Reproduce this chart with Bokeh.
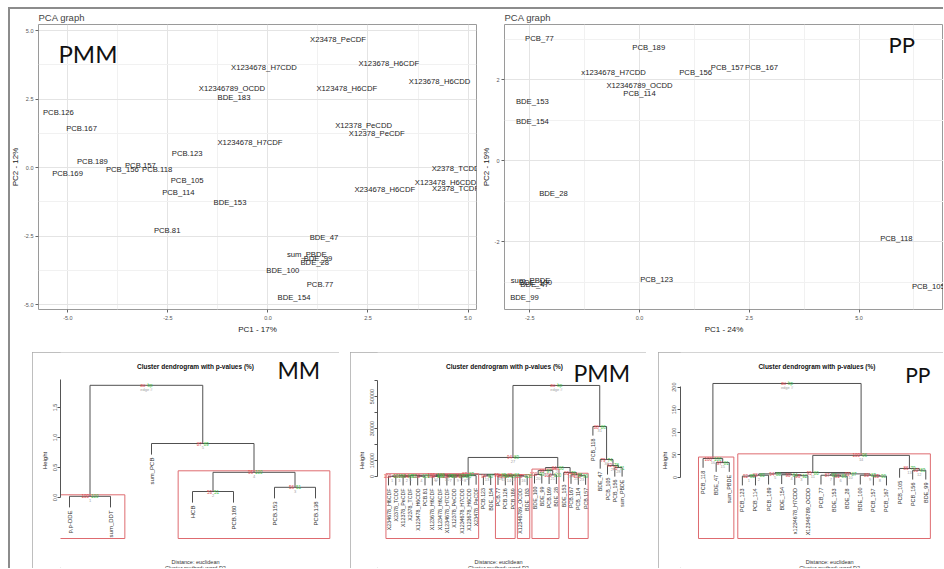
import math
from bokeh.plotting import figure
from bokeh.models import FixedTicker, NumeralTickFormatter, Spacer, ColumnDataSource
from bokeh.layouts import row, column
from bokeh.core.properties import value
from bokeh.embed import file_html
from bokeh.resources import INLINE

FONT = "Liberation Sans"
BIG = "Lato"

# ---------------- PCA, PMM ----------------
pmm_names = ["X23478_PeCDF", "X123678_H6CDF", "X1234678_H7CDD", "X123678_H6CDD", "X12346789_OCDD",
             "BDE_183", "X123478_H6CDF", "PCB.126", "PCB.167", "X12378_PeCDD", "X12378_PeCDF",
             "X1234678_H7CDF", "PCB.123", "PCB.189", "PCB.169", "PCB_156", "PCB.157", "PCB.118",
             "PCB_105", "PCB_114", "BDE_153", "PCB.81", "X2378_TCDD", "X123478_H6CDD", "X2378_TCDF",
             "X234678_H6CDF", "BDE_47", "sum_PBDE", "BDE_99", "BDE_28", "BDE_100", "PCB.77", "BDE_154"]
pmm_pc1 = [1.75, 3.02, -0.10, 4.29, -0.90, -0.85, 1.97, -5.24, -4.66, 2.39, 2.72, -0.45, -2.02,
           -4.39, -5.01, -3.64, -3.19, -2.77, -2.02, -2.24, -0.95, -2.52, 4.69, 4.44, 4.69, 2.92,
           1.40, 0.97, 1.25, 1.17, 0.37, 1.30, 0.65]
pmm_pc2 = [4.67, 3.80, 3.65, 3.14, 2.88, 2.55, 2.88, 2.01, 1.42, 1.53, 1.24, 0.91, 0.51, 0.22,
           -0.22, -0.06, 0.07, -0.06, -0.47, -0.91, -1.28, -2.30, -0.04, -0.55, -0.77, -0.80,
           -2.55, -3.18, -3.32, -3.47, -3.76, -4.27, -4.74]
pmm_xticks = [-5.0, -2.5, 0.0, 2.5, 5.0]
pmm_xminor = [-3.75, -1.25, 1.25, 3.75]
pmm_yticks = [-5.0, -2.5, 0.0, 2.5, 5.0]
pmm_yminor = [-3.75, -1.25, 1.25, 3.75]

# ---------------- PCA, PP ----------------
pp_names = ["PCB_77", "PCB_189", "x1234678_H7CDD", "PCB_156", "PCB_157", "PCB_167", "X12346789_OCDD",
            "PCB_114", "BDE_153", "BDE_154", "BDE_28", "PCB_118", "PCB_123", "PCB_105", "sum_PBDE",
            "BDE_100", "BDE_47", "BDE_99"]
pp_pc1 = [-2.28, 0.21, -0.59, 1.28, 2.00, 2.78, 0.00, 0.00, -2.44, -2.44, -1.96, 5.85, 0.39, 6.58,
          -2.48, -2.37, -2.39, -2.62]
pp_pc2 = [3.01, 2.79, 2.17, 2.17, 2.30, 2.30, 1.85, 1.65, 1.46, 0.96, -0.81, -1.93, -2.94, -3.11,
          -2.96, -3.01, -3.06, -3.38]
pp_xticks = [-2.5, 0.0, 2.5, 5.0]
pp_xminor = [-1.25, 1.25, 3.75, 6.25]
pp_yticks = [-2, 0, 2]
pp_yminor = [-3, -1, 1, 3]

# ---------------- Dendrogram MM ----------------
mm_leaves = ["p,p-DDE", "sum_DDT", "sum_PCB", "HCB", "PCB.180", "PCB.153", "PCB.138"]
mm_merges = [(-1, -2), (-4, -5), (-6, -7), (2, 3), (-3, 4), (1, 5)]
mm_heights = [0.02, 0.10, 0.17, 0.42, 0.90, 1.87]
mm_au = [100, 53, 56, 96, 87]
mm_bp = [100, 51, 51, 100, 89]
mm_rects = [1, 4]
mm_ticks = [0.0, 0.5, 1.0, 1.5]

# ---------------- Dendrogram PMM ----------------
pmm_leaves = ["X234678_H6CDF", "X2378_TCDD", "X12378_PeCDF", "X2378_TCDF", "X123478_H6CDD", "PCB.81",
              "X123678_H6CDF", "X123478_H6CDF", "X1234678_H7CDF", "X12378_PeCDD", "X1234678_H7CDD",
              "X123678_H6CDD", "X23478_PeCDF", "PCB.123", "BDE_154", "PCB.77", "PCB.126", "PCB.189",
              "X12346789_OCDD", "BDE_183", "BDE_100", "BDE_99", "PCB.169", "BDE_28", "BDE_153",
              "PCB.167", "PCB_114", "PCB.157", "PCB_118", "BDE_47", "PCB_105", "PCB_156", "sum_PBDE"]
pmm_merges = [(-1, -2), (-3, -4), (1, 2), (-5, -6), (3, 4), (-7, -8), (-9, -10), (-11, -12), (7, 8),
              (6, 9), (10, -13), (5, 11), (-14, -15), (-17, -18), (-16, 14), (-19, -20), (15, 16),
              (13, 17), (12, 18), (-21, -22), (-23, -24), (20, 21), (-27, -28), (-26, 23), (-25, 24),
              (22, 25), (19, 26), (-32, -33), (-31, 28), (-30, 29), (-29, 30), (27, 31)]
pmm_heights = [120, 90, 300, 150, 500, 60, 80, 110, 260, 420, 560, 800, 350, 180, 420, 240, 650,
               1100, 1400, 1300, 1000, 3700, 500, 1100, 2500, 5600, 11900, 5600, 6900, 10600, 31250, 56900]
pmm_au = [100, 100, 99, 100, 98, 100, 100, 97, 99, 100, 96, 100, 94, 100, 98, 100, 89, 91, 87, 100,
          100, 99, 100, 98, 80, 84, 94, 75, 82, 79, 88]
pmm_bp = [100, 99, 98, 100, 95, 100, 99, 96, 97, 99, 93, 100, 90, 99, 96, 100, 86, 85, 83, 99,
          100, 97, 99, 95, 76, 80, 89, 71, 78, 74, 86]
pmm_rects = [12, 15, 16, 22, 24]
pmm_ticks = [0, 10000, 20000, 30000, 40000, 50000, 60000]
pmm_hidden_ticks = [20000, 40000, 60000]

# ---------------- Dendrogram PP ----------------
pp_leaves = ["PCB_118", "BDE_47", "sum_PBDE", "PCB_123", "PCB_114", "PCB_189", "BDE_154",
             "x1234678_H7CDD", "X12346789_OCDD", "PCB_77", "BDE_153", "BDE_28", "BDE_100",
             "PCB_157", "PCB_167", "PCB_105", "PCB_156", "BDE_99"]
pp_merges = [(-4, -5), (1, -6), (-8, -9), (-7, 3), (2, 4), (-11, -12), (-10, 6), (-14, -15), (-13, 8),
             (7, 9), (5, 10), (-17, -18), (-16, 12), (11, 13), (-2, -3), (-1, 15), (16, 14)]
pp_heights = [3, 5, 4, 6, 8, 3, 5, 3, 5, 8, 11, 16, 20, 49, 33, 42, 208]
pp_au = [92, 88, 96, 90, 94, 91, 87, 95, 89, 93, 95, 90, 86, 100, 97, 100]
pp_bp = [85, 80, 92, 84, 88, 86, 80, 90, 83, 87, 80, 83, 79, 96, 81, 100]
pp_rects = [16, 14]
pp_ticks = [0, 50, 100, 150, 200]

FRAME_LINE = "#8c8c8c"


def style_axes(p, tick_size="5.5px", label_size="8px"):
    for ax in p.axis:
        ax.major_label_text_font = FONT
        ax.major_label_text_font_size = tick_size
        ax.major_label_text_color = "#555555"
        ax.axis_label_text_font = FONT
        ax.axis_label_text_font_size = label_size
        ax.axis_label_text_font_style = "normal"
        ax.axis_label_text_color = "#222222"
        ax.major_tick_out = 3
        ax.major_tick_in = 0
        ax.minor_tick_line_color = None
        ax.major_tick_line_color = "#666666"
        ax.axis_line_color = None
        ax.major_label_standoff = 1
        ax.axis_label_standoff = 1


def make_pca(names, xs, ys, xr, yr, width, mbl, mbr, xt, xm, yt, ym, xfmt, yfmt, xlab, ylab,
             tag, tag_pos, tag_size, shadow):
    p = figure(width=width, height=330, x_range=xr, y_range=yr, output_backend="svg",
               toolbar_location=None, min_border_left=mbl, min_border_right=mbr,
               min_border_top=17, min_border_bottom=28)
    p.border_fill_color = None
    p.background_fill_color = "white"
    p.styles = {"box-shadow": shadow}
    p.title.text = "PCA graph"
    p.title.text_font = FONT
    p.title.text_font_size = "9.5px"
    p.title.text_font_style = "normal"
    p.title.standoff = 4
    p.title.align = "left"
    p.xaxis.ticker = FixedTicker(ticks=xt, minor_ticks=xm)
    p.yaxis.ticker = FixedTicker(ticks=yt, minor_ticks=ym)
    p.xaxis.formatter = NumeralTickFormatter(format=xfmt)
    p.yaxis.formatter = NumeralTickFormatter(format=yfmt)
    p.xaxis.axis_label = xlab
    p.yaxis.axis_label = ylab
    style_axes(p)
    p.xaxis.major_label_standoff = 2
    p.xaxis.axis_label_standoff = 2
    for g in (p.xgrid, p.ygrid):
        g.grid_line_color = "#e4e4e4"
        g.minor_grid_line_color = "#f1f1f1"
    p.outline_line_color = "#9a9a9a"
    p.outline_line_width = 1
    src = ColumnDataSource(dict(x=xs, y=ys, t=names))
    p.text(x="x", y="y", text="t", source=src, text_font=value(FONT), text_font_size="7.7px",
           text_align="center", text_baseline="middle", text_color="#1e1e1e")
    p.text(x=[tag_pos[0]], y=[tag_pos[1]], text=[tag], text_font=value(BIG),
           text_font_size=tag_size, text_align="left", text_baseline="middle",
           text_color="#111111")
    return p


# top-left PCA: PC1 0 at page x 267 (40.1 px/unit), PC2 0 at page y 167 (27.4 px/unit)
p1 = make_pca(pmm_names, pmm_pc1, pmm_pc2,
              ((37 - 267) / 40.1, (476 - 267) / 40.1), ((167 - 309) / 27.4, (167 - 24) / 27.4),
              470, 29, 2, pmm_xticks, pmm_xminor, pmm_yticks, pmm_yminor, "0.0", "0.0",
              "PC1 - 17%", "PC2 - 12%", "PMM", ((57 - 267) / 40.1, (167 - 53) / 27.4), "24px",
              "inset 2px 2px 0 " + FRAME_LINE)
# top-right PCA: PC1 0 at page x 639 (43.9 px/unit), PC2 0 at page y 160 (40.5 px/unit)
p2 = make_pca(pp_names, pp_pc1, pp_pc2,
              ((504 - 639) / 43.9, (943 - 639) / 43.9), ((160 - 309) / 40.5, (160 - 24) / 40.5),
              465, 26, 0, pp_xticks, pp_xminor, pp_yticks, pp_yminor, "0.0", "0",
              "PC1 - 24%", "PC2 - 19%", "PP", ((888 - 639) / 43.9, (160 - 43.5) / 40.5), "22px",
              "inset 0 2px 0 " + FRAME_LINE)

RED = "#e2484f"
GREEN = "#3cbf4a"
GREY = "#a0a0a0"
RECT = "#de6b70"
TOP, BOTTOM = 352, 568


def make_dendro(leaves, merges, heights, au, bp, rects, ticks, fmt, hidden, geo, tag, tag_size):
    step, ppu = geo["step"], geo["ppu"]

    def px2x(px):
        return 1 + (px - geo["leaf1"]) / step

    def py2h(py):
        return (geo["zero"] - py) / ppu

    W = geo["box_r"] - geo["box_l"]
    p = figure(width=W, height=BOTTOM - TOP, x_range=(px2x(geo["axis"]), px2x(geo["box_r"])),
               y_range=(py2h(BOTTOM), py2h(TOP)), x_axis_location=None, output_backend="svg",
               toolbar_location=None, min_border_left=geo["axis"] - geo["box_l"],
               min_border_right=0, min_border_top=0, min_border_bottom=0)
    p.styles = {"outline": "1px solid #a9a9a9", "outline-offset": "-1px"}
    p.grid.visible = False
    p.outline_line_color = None
    ax = p.yaxis[0]
    ax.ticker = FixedTicker(ticks=ticks)
    if fmt:
        ax.formatter = NumeralTickFormatter(format=fmt)
    if hidden:
        ax.major_label_overrides = {t: "" for t in hidden}
    ax.axis_label = "Height"
    style_axes(p, "5.5px", "6px")
    ax.axis_line_color = "#555555"
    ax.major_tick_line_color = "#555555"
    ax.bounds = (0, py2h(geo["axis_top"]))
    ax.major_label_orientation = "vertical"
    ax.major_label_standoff = 1
    ax.axis_label_standoff = 2

    n = len(leaves)
    hang = 0.1 * (max(heights) - min(heights))
    mx = []
    members = []
    leaf_end = [0.0] * n
    for (a, b), h in zip(merges, heights):
        xa = float(-a) if a < 0 else mx[a - 1]
        xb = float(-b) if b < 0 else mx[b - 1]
        mx.append((xa + xb) / 2)
        mem = []
        for c in (a, b):
            if c < 0:
                mem.append(-c)
                leaf_end[-c - 1] = h - hang
            else:
                mem.extend(members[c - 1])
        members.append(mem)

    x0, y0, x1, y1 = [], [], [], []
    for k, ((a, b), h) in enumerate(zip(merges, heights)):
        for c in (a, b):
            xc = float(-c) if c < 0 else mx[c - 1]
            yc = h - hang if c < 0 else heights[c - 1]
            x0.append(xc); y0.append(yc); x1.append(xc); y1.append(h)
        xa = float(-a) if a < 0 else mx[a - 1]
        xb = float(-b) if b < 0 else mx[b - 1]
        x0.append(xa); y0.append(h); x1.append(xb); y1.append(h)
    p.segment(x0=x0, y0=y0, x1=x1, y1=y1, line_color="#505050", line_width=1)

    # leaf labels
    gap = 3 / ppu
    p.text(x=list(range(1, n + 1)), y=[e - gap for e in leaf_end], text=leaves, angle=math.pi / 2,
           text_font=value(FONT), text_font_size=geo["leaf_font"], text_align="right",
           text_baseline="middle", text_color="#333333")

    # cluster rectangles
    pad = 0.35
    lefts = [min(members[m - 1]) - pad for m in rects]
    rights = [max(members[m - 1]) + pad for m in rects]
    tops = [heights[m - 1] + 1.5 / ppu for m in rects]
    bots = [py2h(538)] * len(rects)
    p.quad(left=lefts, right=rights, top=tops, bottom=bots, fill_color=None, line_color=RECT,
           line_width=1)

    # p-values (au red, bp green, edge number grey)
    d = 1.0 / step
    dn = 4 / ppu
    nm = len(merges) - 1
    p.text(x=[x - d for x in mx[:nm]], y=heights[:nm], text=[str(v) for v in au],
           text_font=value(FONT), text_font_size="4.5px", text_align="right",
           text_baseline="middle", text_color=RED)
    p.text(x=[x + d for x in mx[:nm]], y=heights[:nm], text=[str(v) for v in bp],
           text_font=value(FONT), text_font_size="4.5px", text_align="left",
           text_baseline="middle", text_color=GREEN)
    p.text(x=mx[:nm], y=[h - dn for h in heights[:nm]], text=[str(i + 1) for i in range(nm)],
           text_font=value(FONT), text_font_size="4px", text_align="center",
           text_baseline="middle", text_color=GREY)
    root_x, root_h = mx[-1], heights[-1]
    p.text(x=[root_x - d], y=[root_h], text=["au"], text_font=value(FONT), text_font_size="4.5px",
           text_align="right", text_baseline="middle", text_color=RED)
    p.text(x=[root_x + d], y=[root_h], text=["bp"], text_font=value(FONT), text_font_size="4.5px",
           text_align="left", text_baseline="middle", text_color=GREEN)
    p.text(x=[root_x], y=[root_h - dn], text=["edge #"], text_font=value(FONT),
           text_font_size="4px", text_align="center", text_baseline="middle", text_color=GREY)

    # title, tag, bottom notes
    p.text(x=[px2x(geo["title_x"])], y=[py2h(366)], text=["Cluster dendrogram with p-values (%)"],
           text_font=value(FONT), text_font_size="6.5px", text_font_style="bold",
           text_align="center", text_baseline="middle", text_color="#111111")
    p.text(x=[px2x(geo["tag_x"])], y=[py2h(geo["tag_y"])], text=[tag], text_font=value(BIG),
           text_font_size=tag_size, text_align="left", text_baseline="middle",
           text_color="#111111")
    p.text(x=[px2x(geo["note_x"])] * 2, y=[py2h(561), py2h(567)],
           text=["Distance: euclidean", "Cluster method: ward.D2"], text_font=value(FONT),
           text_font_size="5.5px", text_align="center", text_baseline="middle",
           text_color="#333333")
    return p


mm_geo = dict(box_l=32, box_r=339, axis=60, leaf1=69, step=41.0, zero=497, ppu=60.0, axis_top=379,
              title_x=195, tag_x=277, tag_y=369.5, note_x=195, leaf_font="6px")
pmm_geo = dict(box_l=350, box_r=646, axis=377, leaf1=388, step=7.3, zero=476, ppu=0.0016,
               axis_top=380, title_x=504, tag_x=573, tag_y=372.5, note_x=498, leaf_font="5.3px")
pp_geo = dict(box_l=658, box_r=943, axis=675, leaf1=698, step=13.35, zero=477, ppu=0.452,
              axis_top=386, title_x=814, tag_x=904, tag_y=374, note_x=827, leaf_font="5.5px")

d1 = make_dendro(mm_leaves, mm_merges, mm_heights, mm_au, mm_bp, mm_rects, mm_ticks, "0.0", None,
                 mm_geo, "MM", "23px")
d2 = make_dendro(pmm_leaves, pmm_merges, pmm_heights, pmm_au, pmm_bp, pmm_rects, pmm_ticks, None,
                 pmm_hidden_ticks, pmm_geo, "PMM", "23px")
d3 = make_dendro(pp_leaves, pp_merges, pp_heights, pp_au, pp_bp, pp_rects, pp_ticks, None, None,
                 pp_geo, "PP", "21px")

left_line = {"box-shadow": "inset 2px 0 0 " + FRAME_LINE}
top_row = row(p1, p2)
gap_row = Spacer(width=935, height=15, styles=left_line)
bottom_row = row(Spacer(width=24, height=BOTTOM - TOP, styles=left_line), d1,
                 Spacer(width=11, height=BOTTOM - TOP), d2,
                 Spacer(width=12, height=BOTTOM - TOP), d3)
body = column(top_row, gap_row, bottom_row)
page = column(Spacer(width=943, height=7), row(Spacer(width=8, height=561), body))

open("out.html", "w").write(file_html(page, INLINE))
